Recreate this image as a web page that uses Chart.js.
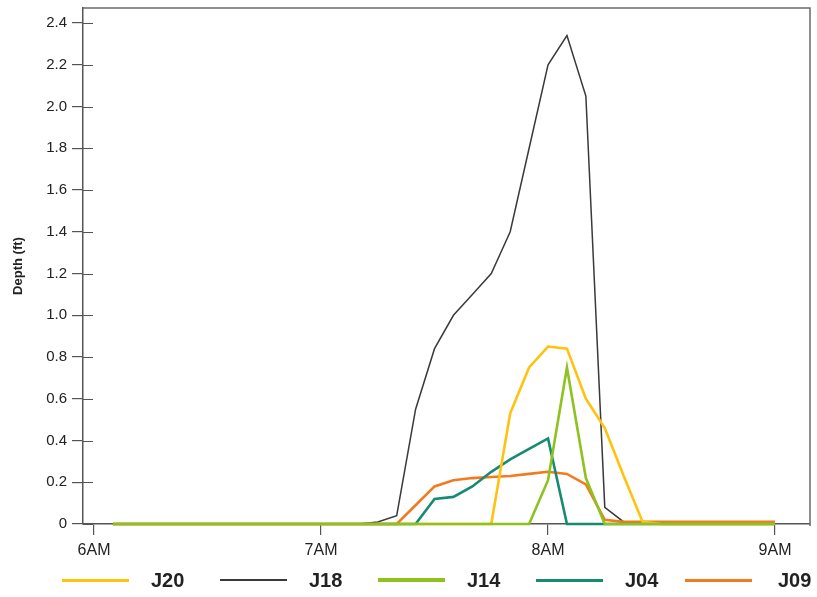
<!DOCTYPE html>
<html>
<head>
<meta charset="utf-8">
<script src="https://cdn.jsdelivr.net/npm/chart.js@4/dist/chart.umd.min.js"></script>
<style>
  html, body { margin: 0; padding: 0; background: #fff; }
  #wrap { position: relative; width: 817px; height: 597px; }
  #legend { position: absolute; left: 62px; top: 566px; display: flex; align-items: center; height: 28px; }
  .item { display: flex; align-items: center; width: 158px; }
  .item .ln { width: 67px; margin-right: 22px; }
  .item:nth-child(5) { margin-left: -9px; }
  .item:nth-child(5) .ln { margin-right: 26px; }
  .item .tx { font-family: "Liberation Sans", Arial, sans-serif; font-weight: bold; font-size: 20px; color: #222; }
</style>
</head>
<body>
<div id="wrap">
  <canvas id="c" width="817" height="597"></canvas>
  <div id="legend"></div>
</div>
<script>
const times = ['6:05','6:10','6:15','6:20','6:25','6:30','6:35','6:40','6:45','6:50','6:55','7:00',
               '7:05','7:10','7:15','7:20','7:25','7:30','7:35','7:40','7:45','7:50','7:55','8:00',
               '8:05','8:10','8:15','8:20','8:25','8:30','8:35','8:40','8:45','8:50','8:55','9:00'];

const seriesNames = ['J20', 'J18', 'J14', 'J04', 'J09'];

const J20 = [0,0,0,0,0,0,0,0,0,0,0,0, 0,0,0,0,0,0,0,0,0,0.53,0.75,0.85,
             0.84,0.60,0.46,0.23,0.01,0,0,0,0,0,0,0];
const J18 = [0,0,0,0,0,0,0,0,0,0,0,0, 0,0,0.01,0.04,0.55,0.84,1.0,1.1,1.2,1.4,1.8,2.2,
             2.34,2.05,0.08,0.01,0,0,0,0,0,0,0,0];
const J14 = [0,0,0,0,0,0,0,0,0,0,0,0, 0,0,0,0,0,0,0,0,0,0,0,0.21,
             0.75,0.22,0,0,0,0,0,0,0,0,0,0];
const J04 = [0,0,0,0,0,0,0,0,0,0,0,0, 0,0,0,0,0,0.12,0.13,0.18,0.25,0.31,0.36,0.41,
             0,0,0,0,0,0,0,0,0,0,0,0];
const J09 = [0,0,0,0,0,0,0,0,0,0,0,0, 0,0,0,0,0.09,0.18,0.21,0.22,0.225,0.23,0.24,0.25,
             0.24,0.19,0.02,0.01,0.01,0.01,0.01,0.01,0.01,0.01,0.01,0.01];

const xTickHours = [6, 7, 8, 9];
const xTickLabels = ['6AM', '7AM', '8AM', '9AM'];
const yTickValues = [0, 0.2, 0.4, 0.6, 0.8, 1.0, 1.2, 1.4, 1.6, 1.8, 2.0, 2.2, 2.4];
const yTickLabels = ['0', '0.2', '0.4', '0.6', '0.8', '1.0', '1.2', '1.4', '1.6', '1.8', '2.0', '2.2', '2.4'];

const seriesValues = [J20, J18, J14, J04, J09];
const seriesColors = ['#FFC20E', '#3a3a3a', '#8DC21F', '#178B72', '#F47A1F'];
const seriesWidths = [2.6, 1.5, 2.6, 2.6, 2.6];
const legendWidths = [3, 2.5, 4, 3, 3];
const drawOrder = [1, 4, 0, 2, 3];

function toHours(t) {
  const p = t.split(':');
  return Number(p[0]) + Number(p[1]) / 60;
}

const datasets = seriesNames.map((name, i) => ({
  label: name,
  data: times.map((t, k) => ({ x: toHours(t), y: seriesValues[i][k] })),
  borderColor: seriesColors[i],
  backgroundColor: seriesColors[i],
  borderWidth: seriesWidths[i],
  pointRadius: 0,
  tension: 0,
  fill: false,
  clip: false,
  order: drawOrder[i]
}));

const frame = {
  id: 'frame',
  afterDraw(chart) {
    const { ctx, chartArea: a, scales } = chart;
    ctx.save();
    ctx.strokeStyle = '#6a6a6a';
    ctx.lineWidth = 1.5;
    ctx.beginPath();
    ctx.moveTo(a.left, a.top);
    ctx.lineTo(a.right, a.top);
    ctx.lineTo(a.right, a.bottom + 2);
    ctx.stroke();
    ctx.strokeStyle = '#555';
    ctx.lineWidth = 1.2;
    ctx.beginPath();
    yTickValues.forEach(v => {
      const y = Math.round(scales.y.getPixelForValue(v)) + 0.5;
      ctx.moveTo(a.left, y);
      ctx.lineTo(a.left + 10, y);
    });
    ctx.stroke();
    ctx.restore();
  }
};

const tickFont = { family: '"Liberation Sans", Arial, sans-serif', size: 15 };

new Chart(document.getElementById('c'), {
  type: 'line',
  data: { datasets },
  options: {
    responsive: false,
    animation: false,
    layout: { padding: { top: 8, right: 7, left: 0, bottom: 0 } },
    plugins: { legend: { display: false }, tooltip: { enabled: false } },
    scales: {
      x: {
        type: 'linear',
        min: 5.9515,
        max: 9.154,
        afterBuildTicks: s => { s.ticks = xTickHours.map(v => ({ value: v })); },
        afterFit: s => { s.height = 73; s.paddingLeft = 0; s.paddingRight = 0; },
        ticks: {
          callback: v => xTickLabels[xTickHours.indexOf(v)],
          font: { ...tickFont, size: 16 },
          color: '#222',
          padding: 6,
          maxRotation: 0,
          autoSkip: false
        },
        grid: { drawOnChartArea: false, drawTicks: true, tickLength: 11, color: '#555', lineWidth: 1.2 },
        border: { display: true, color: '#555', width: 1.5 }
      },
      y: {
        min: 0,
        max: 2.472,
        afterBuildTicks: s => { s.ticks = yTickValues.map(v => ({ value: v })); },
        afterFit: s => { s.width = 83; s.paddingTop = 0; s.paddingBottom = 0; },
        ticks: {
          callback: v => yTickLabels[yTickValues.indexOf(v)],
          font: tickFont,
          color: '#222',
          padding: 5,
          autoSkip: false
        },
        grid: { drawOnChartArea: false, drawTicks: true, tickLength: 11, color: '#555', lineWidth: 1.2 },
        border: { display: true, color: '#555', width: 1.5 },
        title: {
          display: true,
          text: 'Depth (ft)',
          font: { family: '"Liberation Sans", Arial, sans-serif', size: 13, weight: 'bold' },
          color: '#222',
          padding: { top: 11, bottom: 0 }
        }
      }
    }
  },
  plugins: [frame]
});

const legend = document.getElementById('legend');
seriesNames.forEach((name, i) => {
  const item = document.createElement('div');
  item.className = 'item';
  const ln = document.createElement('div');
  ln.className = 'ln';
  ln.style.height = legendWidths[i] + 'px';
  ln.style.background = seriesColors[i];
  const tx = document.createElement('span');
  tx.className = 'tx';
  tx.textContent = name;
  item.appendChild(ln);
  item.appendChild(tx);
  legend.appendChild(item);
});
</script>
</body>
</html>
